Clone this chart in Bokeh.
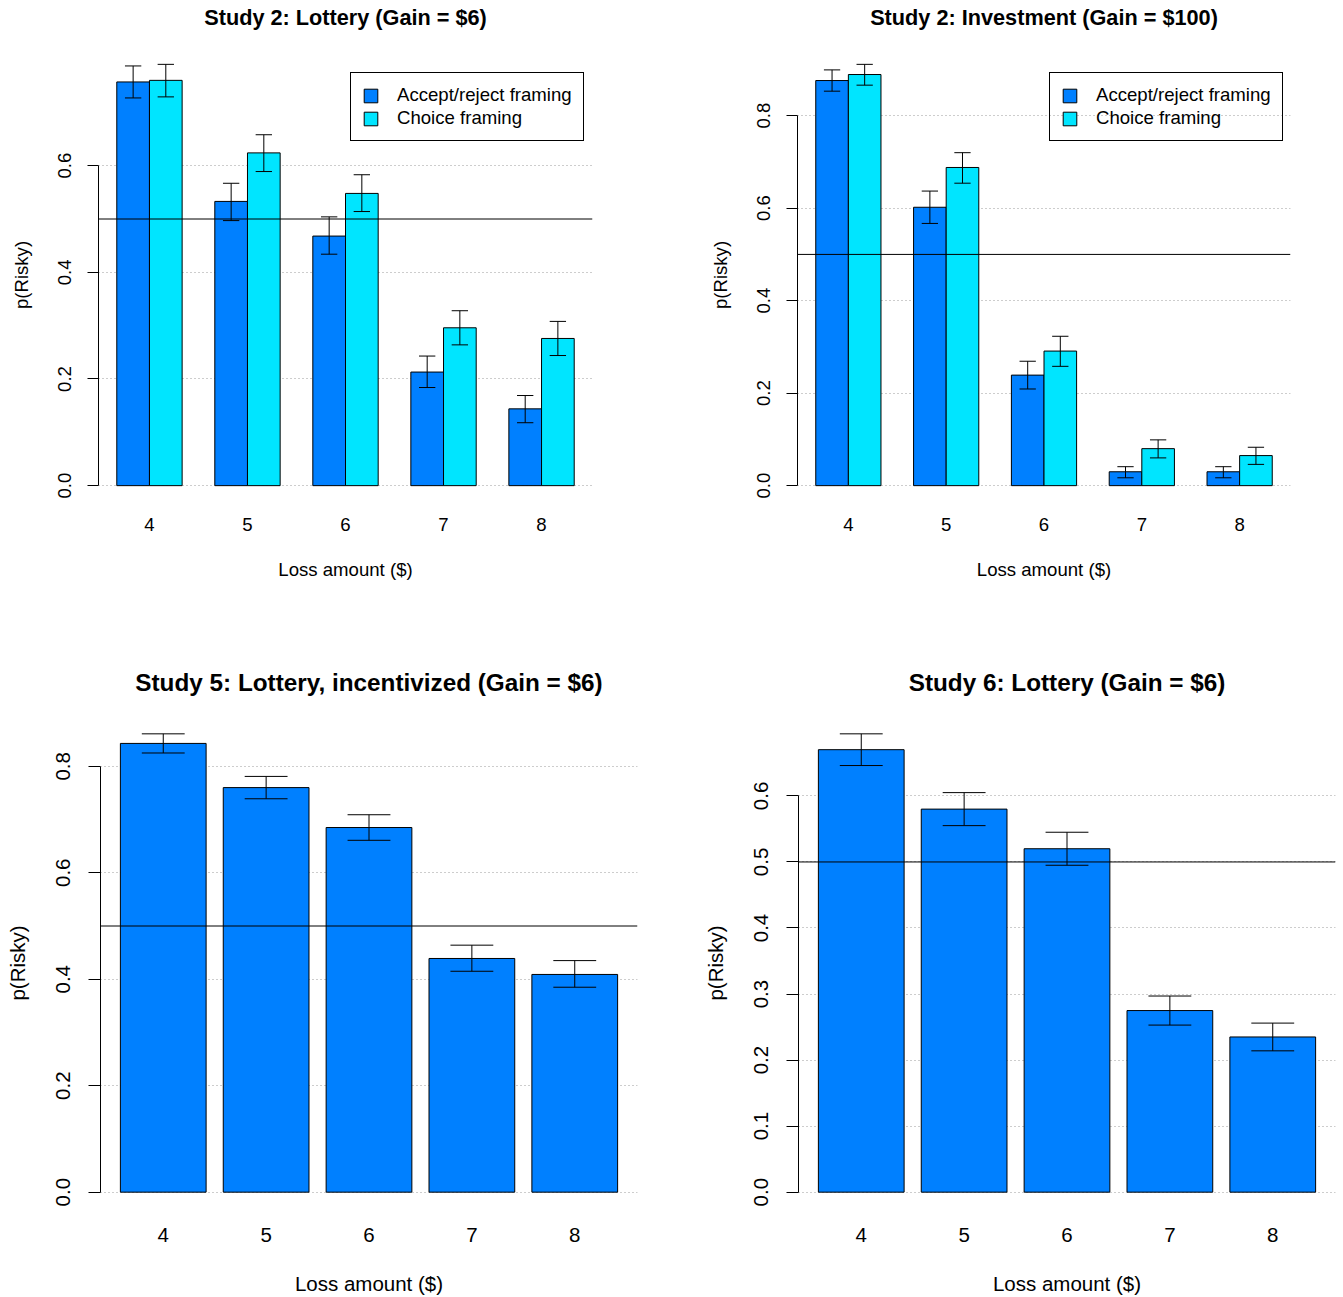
from bokeh.plotting import figure
from bokeh.models import (FixedTicker, PrintfTickFormatter, Span, Legend,
                          LegendItem, Range1d, ColumnDataSource)
from bokeh.layouts import column, row
from bokeh.embed import file_html
from bokeh.resources import INLINE

# ---------------- data ----------------
losses = [4, 5, 6, 7, 8]
series_labels = ["Accept/reject framing", "Choice framing"]

# Study 2: Lottery (Gain = $6)
s2l_accept = [0.757, 0.533, 0.468, 0.213, 0.144]
s2l_accept_lo = [0.727, 0.497, 0.434, 0.184, 0.118]
s2l_accept_hi = [0.787, 0.567, 0.504, 0.243, 0.169]
s2l_choice = [0.760, 0.624, 0.548, 0.296, 0.276]
s2l_choice_lo = [0.729, 0.589, 0.514, 0.264, 0.244]
s2l_choice_hi = [0.790, 0.658, 0.583, 0.328, 0.308]

# Study 2: Investment (Gain = $100)
s2i_accept = [0.876, 0.602, 0.239, 0.030, 0.030]
s2i_accept_lo = [0.853, 0.567, 0.209, 0.017, 0.017]
s2i_accept_hi = [0.899, 0.637, 0.269, 0.041, 0.041]
s2i_choice = [0.889, 0.688, 0.291, 0.080, 0.065]
s2i_choice_lo = [0.866, 0.654, 0.258, 0.060, 0.046]
s2i_choice_hi = [0.911, 0.720, 0.323, 0.099, 0.083]

# Study 5: Lottery, incentivized (Gain = $6)
s5 = [0.843, 0.760, 0.685, 0.439, 0.409]
s5_lo = [0.825, 0.739, 0.661, 0.415, 0.385]
s5_hi = [0.861, 0.781, 0.709, 0.464, 0.435]

# Study 6: Lottery (Gain = $6)
s6 = [0.670, 0.580, 0.520, 0.275, 0.235]
s6_lo = [0.646, 0.555, 0.495, 0.253, 0.214]
s6_hi = [0.694, 0.605, 0.545, 0.297, 0.256]

yticks_s2l = [0.0, 0.2, 0.4, 0.6]
yticks_s2i = [0.0, 0.2, 0.4, 0.6, 0.8]
yticks_s5 = [0.0, 0.2, 0.4, 0.6, 0.8]
yticks_s6 = [0.0, 0.1, 0.2, 0.3, 0.4, 0.5, 0.6]

ACCEPT = "#0080FF"
CHOICE = "#00E5FF"
FONT = "Liberation Sans"


def panel(title, yticks, groups, colors, w, h, bl, br, bt, bb, fs, tfs,
          tick_len, title_pad, xs1, xs2, ys1, ys2, legend_xy=None):
    nb = len(groups)
    bar_w = 1.0 / (nb + 1) if nb > 1 else 1.0 / 1.2
    left = min(losses) - nb * bar_w / 2
    right = max(losses) + nb * bar_w / 2
    xpad = 0.04 * (right - left)
    ymax = max(max(g[2]) for g in groups)
    xr = Range1d(left - xpad, right + xpad)
    yr = Range1d(-0.04 * ymax, 1.04 * ymax)
    p = figure(width=w, height=h, x_range=xr, y_range=yr,
               output_backend="svg", toolbar_location=None,
               min_border_left=bl, min_border_right=br,
               min_border_top=bt, min_border_bottom=bb)
    p.outline_line_color = None
    p.background_fill_color = "white"
    p.border_fill_color = "white"

    # title
    p.title.text = title
    p.title.align = "center"
    p.title.text_font = FONT
    p.title.text_font_size = tfs
    p.title.text_font_style = "bold"
    p.title.text_color = "black"
    p.title.standoff = 0
    p.title.padding = dict(left=0, right=0, top=0, bottom=title_pad)

    # grid
    p.xgrid.visible = False
    p.ygrid.grid_line_color = "#9a9a9a"
    p.ygrid.grid_line_dash = "1 3"
    p.ygrid.grid_line_width = 1

    # y axis
    ya = p.yaxis[0]
    ya.ticker = FixedTicker(ticks=yticks, minor_ticks=[])
    ya.formatter = PrintfTickFormatter(format="%.1f")
    ya.bounds = (yticks[0], yticks[-1])
    ya.axis_line_color = "black"
    ya.major_tick_line_color = "black"
    ya.major_tick_out = tick_len
    ya.major_tick_in = 0
    ya.minor_tick_out = 0
    ya.minor_tick_in = 0
    ya.major_label_orientation = "parallel"
    ya.major_label_text_font = FONT
    ya.major_label_text_font_size = fs
    ya.major_label_text_color = "black"
    ya.major_label_standoff = ys1
    ya.axis_label = "p(Risky)"
    ya.axis_label_text_font = FONT
    ya.axis_label_text_font_size = fs
    ya.axis_label_text_font_style = "normal"
    ya.axis_label_text_color = "black"
    ya.axis_label_standoff = ys2

    # x axis (names under the groups only)
    xa = p.xaxis[0]
    xa.ticker = FixedTicker(ticks=losses, minor_ticks=[])
    xa.axis_line_color = None
    xa.major_tick_line_color = None
    xa.major_tick_out = 0
    xa.major_tick_in = 0
    xa.minor_tick_out = 0
    xa.minor_tick_in = 0
    xa.major_label_text_font = FONT
    xa.major_label_text_font_size = fs
    xa.major_label_text_color = "black"
    xa.major_label_standoff = xs1
    xa.axis_label = "Loss amount ($)"
    xa.axis_label_text_font = FONT
    xa.axis_label_text_font_size = fs
    xa.axis_label_text_font_style = "normal"
    xa.axis_label_text_color = "black"
    xa.axis_label_standoff = xs2

    renderers = []
    for i, (vals, lo, hi) in enumerate(groups):
        off = (i - (nb - 1) / 2) * bar_w
        xs = [x + off for x in losses]
        src = ColumnDataSource(dict(x=xs, top=vals, lo=lo, hi=hi,
                                    cl=[x - bar_w / 4 for x in xs],
                                    cr=[x + bar_w / 4 for x in xs]))
        r = p.vbar(x="x", top="top", bottom=0, width=bar_w, source=src,
                   fill_color=colors[i], line_color="black", line_width=1)
        renderers.append(r)
        p.segment(x0="x", y0="lo", x1="x", y1="hi", source=src,
                  line_color="black", line_width=1)
        p.segment(x0="cl", y0="hi", x1="cr", y1="hi", source=src,
                  line_color="black", line_width=1)
        p.segment(x0="cl", y0="lo", x1="cr", y1="lo", source=src,
                  line_color="black", line_width=1)

    p.add_layout(Span(location=0.5, dimension="width", line_color="black",
                      line_width=1))

    if legend_xy is not None:
        items = [LegendItem(label=lab, renderers=[r])
                 for lab, r in zip(series_labels, renderers)]
        leg = Legend(items=items, location=legend_xy, padding=11, spacing=1,
                     margin=0, glyph_width=17, glyph_height=17,
                     label_standoff=18, label_text_font=FONT,
                     label_text_font_size=fs, label_text_color="black",
                     border_line_color="black", border_line_width=1,
                     border_line_alpha=1.0,
                     background_fill_alpha=0.0)
        p.add_layout(leg, "center")
    return p


top_fs, top_tfs = "18.6px", "21.7px"
bot_fs, bot_tfs = "20.5px", "24.3px"

p1 = panel("Study 2: Lottery (Gain = $6)", yticks_s2l,
           [(s2l_accept, s2l_accept_lo, s2l_accept_hi),
            (s2l_choice, s2l_choice_lo, s2l_choice_hi)],
           [ACCEPT, CHOICE], 706, 640, 98, 114, 47, 138, top_fs, top_tfs,
           11, 18, 15, 25, 16, 24, legend_xy=(252, 361))
p2 = panel("Study 2: Investment (Gain = $100)", yticks_s2i,
           [(s2i_accept, s2i_accept_lo, s2i_accept_hi),
            (s2i_choice, s2i_choice_lo, s2i_choice_hi)],
           [ACCEPT, CHOICE], 637, 640, 90, 53, 47, 138, top_fs, top_tfs,
           11, 18, 15, 25, 16, 24, legend_xy=(252, 361))
p3 = panel("Study 5: Lottery, incentivized (Gain = $6)", yticks_s5,
           [(s5, s5_lo, s5_hi)], [ACCEPT], 698, 657, 100, 61, 75, 87,
           bot_fs, bot_tfs, 12, 20, 17, 27, 18, 25)
p4 = panel("Study 6: Lottery (Gain = $6)", yticks_s6,
           [(s6, s6_lo, s6_hi)], [ACCEPT], 645, 657, 100, 8, 75, 87,
           bot_fs, bot_tfs, 12, 20, 17, 27, 18, 25)

layout = column(row(p1, p2), row(p3, p4))
open("out.html", "w").write(file_html(layout, INLINE))
